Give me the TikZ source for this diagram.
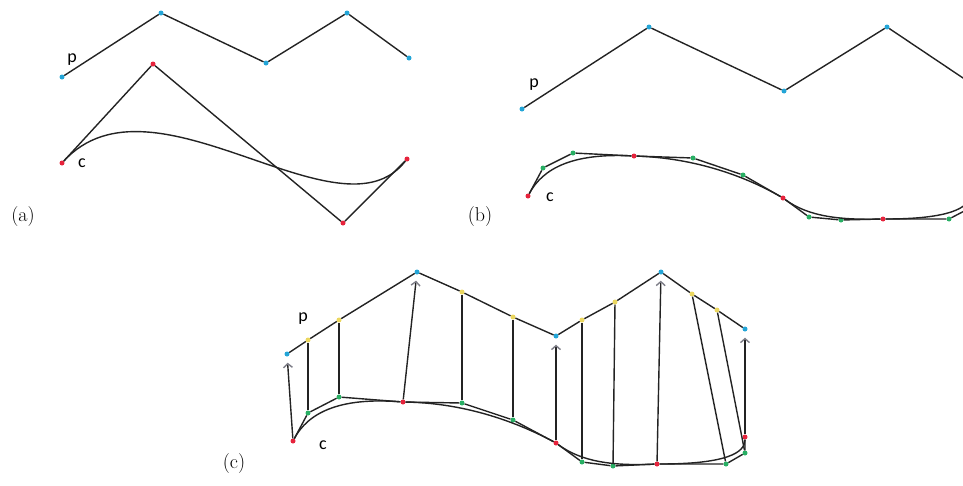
\documentclass[tikz,border=0pt]{standalone}
\usepackage{fontspec}
\newfontfamily\lblfont{Carlito}
\usetikzlibrary{arrows.meta}

\definecolor{ptblue}{RGB}{35,165,215}
\definecolor{ptred}{RGB}{230,35,60}
\definecolor{ptgreen}{RGB}{40,175,100}
\definecolor{ptyellow}{RGB}{235,215,95}
\definecolor{inkgray}{RGB}{35,35,35}
\definecolor{tipgray}{RGB}{125,125,135}

\begin{document}
\begin{tikzpicture}[
  x=1pt, y=-1pt, line join=round,
  dot/.style={circle, inner sep=0pt, minimum size=5pt},
  bdot/.style={dot, fill=ptblue},
  rdot/.style={dot, fill=ptred},
  gdot/.style={dot, fill=ptgreen},
  ydot/.style={dot, fill=ptyellow},
  seg/.style={draw=inkgray, line width=1.4pt},
  lift/.style={seg, -{Straight Barb[color=tipgray, length=4pt, width=9pt]}, shorten >=6pt},
  plabel/.style={font=\lblfont\fontsize{18}{18}\selectfont},
  tagtext/.style={font=\fontsize{20}{20}\selectfont},
]
\useasboundingbox (0,0) rectangle (963,485);
\clip (0,0) rectangle (963,485);

% (a) polyline p and control polygon c
\node[bdot] (pa1) at (62,77) {};  \node[bdot] (pa2) at (161,13) {};
\node[bdot] (pa3) at (266,63) {}; \node[bdot] (pa4) at (347,13) {};
\node[bdot] (pa5) at (409,58) {};
\node[rdot] (ca1) at (62,163) {};  \node[rdot] (ca2) at (153,64) {};
\node[rdot] (ca3) at (343,223) {}; \node[rdot] (ca4) at (407,159) {};
\coordinate (kb) at (340,245);

\node[plabel] (lpa) at (72,60) {p};
\node[plabel] (lca) at (82,163) {c};
\node[tagtext] (taga) at (23,217) {(a)};

\draw[seg] (pa1) -- (pa2) -- (pa3) -- (pa4) -- (pa5);
\draw[seg] (ca1) -- (ca2) -- (ca3) -- (ca4);
\draw[seg] (ca1) .. controls (ca2.center) and (kb) .. (ca4);

% (b) refined curve, runs off the right edge
\node[bdot] (pb1) at (522,109) {}; \node[bdot] (pb2) at (649,27) {};
\node[bdot] (pb3) at (784,91) {};  \node[bdot] (pb4) at (887,27) {};
\node[bdot] (pb5) at (966,80) {};
\node[rdot] (cb1) at (528,196) {};  \node[gdot] (cb2) at (543,168) {};
\node[gdot] (cb3) at (573,153) {};  \node[rdot] (cb4) at (634,156) {};
\node[gdot] (cb5) at (693,158) {};  \node[gdot] (cb6) at (743,175) {};
\node[rdot] (cb7) at (783,198) {};  \node[gdot] (cb8) at (809,217) {};
\node[gdot] (cb9) at (841,220) {};  \node[rdot] (cb10) at (883,219) {};
\node[gdot] (cb11) at (949,219) {}; \node[gdot] (cb12) at (970,208) {};
\node[rdot] (cb13) at (970,192) {};

\node[plabel] (lpb) at (534,85) {p};
\node[plabel] (lcb) at (550,197) {c};
\node[tagtext] (tagb) at (480,217) {(b)};

\draw[seg] (pb1) -- (pb2) -- (pb3) -- (pb4) -- (pb5);
\draw[seg] (cb1) -- (cb2) -- (cb3) -- (cb4) -- (cb5) -- (cb6) -- (cb7)
  -- (cb8) -- (cb9) -- (cb10) -- (cb11) -- (cb12) -- (cb13);
\draw[seg] (cb1) .. controls (cb2.center) and (cb3.center) .. (cb4)
  .. controls (cb5.center) and (cb6.center) .. (cb7)
  .. controls (cb8.center) and (cb9.center) .. (cb10)
  .. controls (cb11.center) and (cb12.center) .. (cb13);

% (c) curve points lifted onto p
\node[bdot] (pc1) at (287,354) {};  \node[ydot] (pc2) at (308,340) {};
\node[ydot] (pc3) at (339,320) {};  \node[bdot] (pc4) at (417,272) {};
\node[ydot] (pc5) at (462,292) {};  \node[ydot] (pc6) at (513,317) {};
\node[bdot] (pc7) at (556,336) {};  \node[ydot] (pc8) at (582,320) {};
\node[ydot] (pc9) at (615,302) {};  \node[bdot] (pc10) at (661,272) {};
\node[ydot] (pc11) at (692,294) {}; \node[ydot] (pc12) at (717,310) {};
\node[bdot] (pc13) at (745,329) {};
\node[rdot] (cc1) at (293,441) {};  \node[gdot] (cc2) at (308,413) {};
\node[gdot] (cc3) at (339,397) {};  \node[rdot] (cc4) at (403,402) {};
\node[gdot] (cc5) at (462,403) {};  \node[gdot] (cc6) at (513,420) {};
\node[rdot] (cc7) at (556,443) {};  \node[gdot] (cc8) at (582,462) {};
\node[gdot] (cc9) at (613,466) {};  \node[rdot] (cc10) at (657,464) {};
\node[gdot] (cc11) at (726,464) {}; \node[gdot] (cc12) at (745,453) {};
\node[rdot] (cc13) at (745,437) {};

\node[plabel] (lpc) at (303,319) {p};
\node[plabel] (lcc) at (323,445) {c};
\node[tagtext] (tagc) at (234,464) {(c)};

\draw[seg] (pc1) -- (pc2) -- (pc3) -- (pc4) -- (pc5) -- (pc6) -- (pc7)
  -- (pc8) -- (pc9) -- (pc10) -- (pc11) -- (pc12) -- (pc13);
\draw[seg] (cc1) -- (cc2) -- (cc3) -- (cc4) -- (cc5) -- (cc6) -- (cc7)
  -- (cc8) -- (cc9) -- (cc10) -- (cc11) -- (cc12) -- (cc13);
\draw[seg] (cc1) .. controls (cc2.center) and (cc3.center) .. (cc4)
  .. controls (cc5.center) and (cc6.center) .. (cc7)
  .. controls (cc8.center) and (cc9.center) .. (cc10)
  .. controls (cc11.center) and (cc12.center) .. (cc13);

\draw[lift] (cc1) -- (pc1);
\draw[seg] (cc2) -- (pc2);
\draw[seg] (cc3) -- (pc3);
\draw[lift] (cc4) -- (pc4);
\draw[seg] (cc5) -- (pc5);
\draw[seg] (cc6) -- (pc6);
\draw[lift] (cc7) -- (pc7);
\draw[seg] (cc8) -- (pc8);
\draw[seg] (cc9) -- (pc9);
\draw[lift] (cc10) -- (pc10);
\draw[seg] (cc11) -- (pc11);
\draw[seg] (cc12) -- (pc12);
\draw[lift] (cc13) -- (pc13);
\end{tikzpicture}
\end{document}
